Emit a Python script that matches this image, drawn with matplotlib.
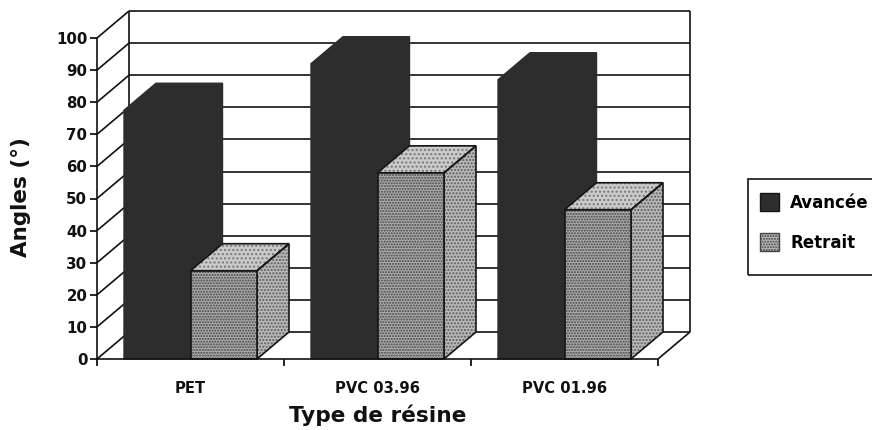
import matplotlib
matplotlib.use("Agg")
import matplotlib.pyplot as plt
from matplotlib.patches import Polygon, Patch, Rectangle

categories = ["PET", "PVC 03.96", "PVC 01.96"]
avancee = [77.5, 92, 87]
retrait = [27.5, 58, 46.5]
y_ticks = list(range(0, 101, 10))
series_names = ["Avancée", "Retrait"]

DARK = "#2d2d2d"
FONT = "DejaVu Sans"
plt.rcParams["font.family"] = FONT
plt.rcParams["hatch.linewidth"] = 1.0

fig = plt.figure(figsize=(8.72, 4.30), dpi=100, facecolor="white")
ax = fig.add_axes([97/872, (430-359)/430, 561/872, 321/430])
ax.set_xlim(0, 3)
ax.set_ylim(0, 100)
ax.patch.set_alpha(0)

DX = 32/187
DY = 27/3.21
BW = 66.5/187
GAP = 27/187

# chart walls
line = dict(color="#111111", lw=1.2, clip_on=False, zorder=1, solid_capstyle="butt")
for v in y_ticks:
    ax.plot([0, DX], [v, v+DY], **line)
    ax.plot([DX, 3+DX], [v+DY, v+DY], **line)
ax.plot([DX, DX], [DY, 100+DY], **line)
ax.plot([3+DX, 3+DX], [DY, 100+DY], **line)
ax.plot([3, 3+DX], [0, DY], **line)

def poly(pts, face, z, hatch=None, hatch_col="#4a4a4a"):
    ax.add_patch(Polygon(pts, closed=True, facecolor=face, edgecolor=hatch_col if hatch else face,
                         hatch=hatch, lw=0, clip_on=False, zorder=z))
    ax.add_patch(Polygon(pts, closed=True, fill=False, edgecolor="#161616", lw=1.2,
                         clip_on=False, zorder=z+0.1))

def dark_bar(i, v):
    x0 = i + GAP
    x1 = x0 + BW
    pts = [(x0, 0), (x0, v), (x0+DX, v+DY), (x1+DX, v+DY), (x1+DX, DY), (x1, 0)]
    ax.add_patch(Polygon(pts, closed=True, facecolor=DARK, edgecolor=DARK, lw=1,
                         clip_on=False, zorder=3))

def light_bar(i, v):
    x0 = i + GAP + BW
    x1 = x0 + BW
    poly([(x1, 0), (x1+DX, DY), (x1+DX, v+DY), (x1, v)], "#b8b8b8", 4, ".....", "#5c5c5c")
    poly([(x0, v), (x0+DX, v+DY), (x1+DX, v+DY), (x1, v)], "#cacaca", 4, "....", "#777777")
    poly([(x0, 0), (x0, v), (x1, v), (x1, 0)], "#ababab", 4.5, "......", "#444444")

for i, (a, r) in enumerate(zip(avancee, retrait)):
    dark_bar(i, a)
    light_bar(i, r)

for s in ("top", "right"):
    ax.spines[s].set_visible(False)
for s in ("left", "bottom"):
    ax.spines[s].set_linewidth(1.2)
    ax.spines[s].set_color("#111111")
    ax.spines[s].set_zorder(6)

ax.set_yticks(y_ticks)
ax.set_yticklabels([str(v) for v in y_ticks], fontsize=10.8, fontweight="bold", color="#111111")
ax.tick_params(axis="y", length=5, width=1.2, pad=2)
ax.set_xticks([0, 1, 2, 3])
ax.set_xticklabels([])
ax.tick_params(axis="x", which="major", length=5, width=1.2)
ax.set_xticks([0.5, 1.5, 2.5], minor=True)
ax.set_xticklabels(categories, minor=True, fontsize=10.6, fontweight="bold", color="#111111")
ax.tick_params(axis="x", which="minor", length=0, pad=16)

ax.set_xlabel("Type de résine", fontsize=15.6, fontweight="bold", color="#111111")
ax.xaxis.set_label_coords(0.5, -0.141)
ax.set_ylabel("Angles (°)", fontsize=15.5, fontweight="bold", color="#111111")
ax.yaxis.set_label_coords(-0.118, 0.505)

fig.add_artist(Rectangle((748/872, 155/430), 130/872, 96/430, transform=fig.transFigure,
                         fill=False, edgecolor="#111111", lw=1.2))
handles = [Patch(facecolor=DARK, edgecolor="#161616", lw=1),
           Patch(facecolor="#b8b8b8", edgecolor="#444444", lw=1, hatch="......")]
leg = fig.legend(handles, series_names, loc="upper left",
                 bbox_to_anchor=(760/872, (430-193)/430), bbox_transform=fig.transFigure,
                 frameon=False,
                 prop=dict(family=FONT, weight="bold", size=12),
                 handlelength=1.15, handleheight=1.3, handletextpad=0.66,
                 labelspacing=1.27, borderpad=0, borderaxespad=0)

fig.savefig("out.png", dpi=100)
